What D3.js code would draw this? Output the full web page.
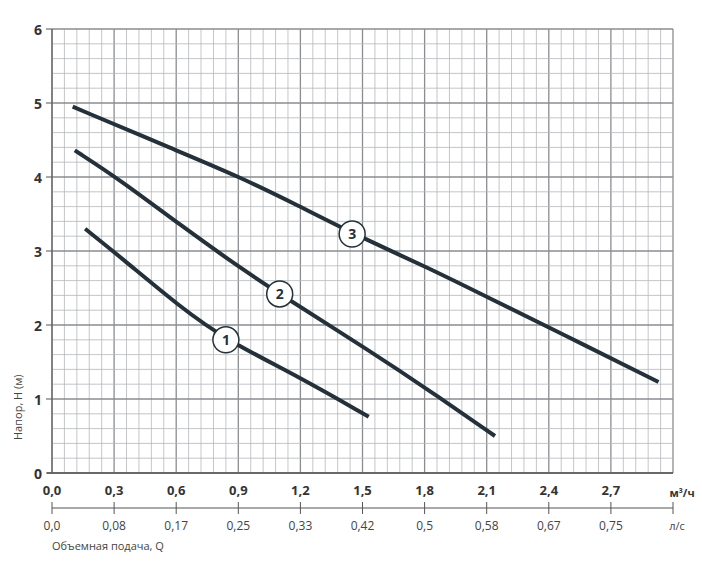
<!DOCTYPE html>
<html><head><meta charset="utf-8">
<script src="https://cdn.jsdelivr.net/npm/d3@7"></script>
<style>body{margin:0;background:#fff}text{font-family:"Open Sans",sans-serif}</style>
</head><body>
<svg id="c" width="702" height="567"></svg>
<script>
// данные кривых (Q м³/ч, H м)
const curve1 = [[0.16,3.30],[0.33,2.92],[0.62,2.24],[0.84,1.80],[1.2,1.29],[1.53,0.76]];
const curve2 = [[0.11,4.36],[0.33,3.96],[0.62,3.35],[0.91,2.77],[1.1,2.42],[1.54,1.64],[1.82,1.12],[2.14,0.5]];
const curve3 = [[0.10,4.95],[0.6,4.36],[0.9,4.01],[1.2,3.6],[1.45,3.24],[1.82,2.77],[2.1,2.38],[2.45,1.90],[2.93,1.23]];
const labels = [{n:"1",q:0.84,h:1.80},{n:"2",q:1.10,h:2.42},{n:"3",q:1.45,h:3.23}];
const m3Ticks = ["0,0","0,3","0,6","0,9","1,2","1,5","1,8","2,1","2,4","2,7"];
const lsTicks = ["0,0","0,08","0,17","0,25","0,33","0,42","0,5","0,58","0,67","0,75"];
const hTicks = [0,1,2,3,4,5,6];

const svg = d3.select("#c");
const x = d3.scaleLinear().domain([0,3]).range([52,673]);
const y = d3.scaleLinear().domain([0,6]).range([473,29]);

// сетка
const g = svg.append("g");
g.selectAll(".vm").data(d3.range(0,3.0001,0.06)).enter().append("line")
  .attr("x1",d=>x(d)).attr("x2",d=>x(d)).attr("y1",y(0)).attr("y2",y(6))
  .attr("stroke",(d,i)=>i%5===0?"#8a8d90":"#b5b8ba").attr("stroke-width",(d,i)=>i%5===0?1.3:0.8);
g.selectAll(".hm").data(d3.range(0,6.0001,0.2)).enter().append("line")
  .attr("y1",d=>y(d)).attr("y2",d=>y(d)).attr("x1",x(0)).attr("x2",x(3))
  .attr("stroke",(d,i)=>i%5===0?"#8a8d90":"#b5b8ba").attr("stroke-width",(d,i)=>i%5===0?1.3:0.8);

// оси
svg.append("line").attr("x1",x(0)-5).attr("x2",x(3)).attr("y1",y(0)).attr("y2",y(0)).attr("stroke","#555").attr("stroke-width",1.5);
svg.append("line").attr("x1",x(0)).attr("x2",x(0)).attr("y1",y(0)).attr("y2",y(6)).attr("stroke","#666").attr("stroke-width",1.3);
svg.selectAll(".yt").data(hTicks).enter().append("text")
  .attr("x",42).attr("y",d=>y(d)+6).attr("text-anchor","end")
  .attr("font-size",14).attr("font-weight","bold").attr("fill","#333").text(d=>d);
svg.selectAll(".yk").data(hTicks).enter().append("line")
  .attr("x1",x(0)-6).attr("x2",x(0)).attr("y1",d=>y(d)).attr("y2",d=>y(d)).attr("stroke","#555");
svg.selectAll(".xt").data(m3Ticks).enter().append("text")
  .attr("x",(d,i)=>x(i*0.3)).attr("y",495).attr("text-anchor","middle")
  .attr("font-size",13).attr("font-weight","bold").attr("fill","#333").text(d=>d);
svg.append("text").attr("x",682).attr("y",497).attr("text-anchor","middle")
  .attr("font-size",11).attr("font-weight","bold").attr("fill","#333").text("м³/ч");

// вторая ось л/с
svg.append("line").attr("x1",x(0)).attr("x2",x(3)).attr("y1",508).attr("y2",508).attr("stroke","#555").attr("stroke-width",1.2);
svg.selectAll(".lk").data(d3.range(11)).enter().append("line")
  .attr("x1",d=>x(d*0.3)).attr("x2",d=>x(d*0.3)).attr("y1",502).attr("y2",514).attr("stroke","#555");
svg.selectAll(".lt").data(lsTicks).enter().append("text")
  .attr("x",(d,i)=>x(i*0.3)).attr("y",530).attr("text-anchor","middle")
  .attr("font-size",12).attr("fill","#444").text(d=>d);
svg.append("text").attr("x",677).attr("y",530).attr("text-anchor","middle")
  .attr("font-size",11).attr("fill","#444").text("л/с");
svg.append("text").attr("x",x(0)).attr("y",550)
  .attr("font-size",11).attr("fill","#444").text("Объемная подача, Q");
svg.append("text").attr("transform","translate(22,440) rotate(-90)")
  .attr("font-size",11).attr("fill","#444").text("Напор, H (м)");

// кривые
const line = d3.line().x(d=>x(d[0])).y(d=>y(d[1])).curve(d3.curveBasis);
[curve1,curve2,curve3].forEach(c=>{
  svg.append("path").attr("d",line(c)).attr("fill","none")
    .attr("stroke","#25313a").attr("stroke-width",4).attr("stroke-linecap","butt");
});
const lb = svg.selectAll(".lb").data(labels).enter().append("g")
  .attr("transform",d=>`translate(${x(d.q)},${y(d.h)})`);
lb.append("circle").attr("r",13).attr("fill","#fff").attr("stroke","#25313a").attr("stroke-width",1.5);
lb.append("text").attr("y",5).attr("text-anchor","middle").attr("font-size",14)
  .attr("font-weight","bold").attr("fill","#25313a").text(d=>d.n);
</script>
</body></html>
